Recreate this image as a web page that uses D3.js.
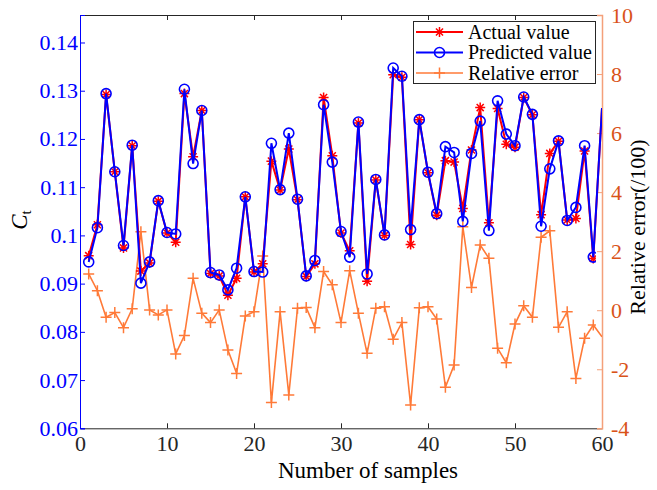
<!DOCTYPE html>
<html>
<head>
<meta charset="utf-8">
<script src="https://cdn.jsdelivr.net/npm/d3@7/dist/d3.min.js"></script>
<style>
  html, body { margin: 0; padding: 0; background: #fff; }
  svg { display: block; font-family: "Liberation Serif", "Times New Roman", serif; }
</style>
</head>
<body>
<svg id="chart" width="657" height="490"></svg>
<script>
// Sample index 1..60
const samples = d3.range(1, 61);

// Thrust coefficient Ct: measured values
const actual = [
  0.0958, 0.1022, 0.1292, 0.1132, 0.0974, 0.1186, 0.0926, 0.0943, 0.1071, 0.1005,
  0.0986, 0.1294, 0.1163, 0.1259, 0.0921, 0.0916, 0.0876, 0.0911, 0.1080, 0.0924,
  0.0941, 0.1154, 0.1094, 0.1179, 0.1074, 0.0915, 0.0941, 0.1286, 0.1165, 0.1005,
  0.0968, 0.1233, 0.0905, 0.1115, 0.1000, 0.1333, 0.1328, 0.0981, 0.1240, 0.1130,
  0.1042, 0.1155, 0.1152, 0.1056, 0.1177, 0.1265, 0.1026, 0.1263, 0.1189, 0.1183,
  0.1286, 0.1250, 0.1043, 0.1170, 0.1195, 0.1032, 0.1035, 0.1175, 0.0952, 0.1264
];

// Thrust coefficient Ct: model prediction
const predicted = [
  0.0945, 0.1016, 0.1294, 0.1132, 0.0979, 0.1187, 0.0901, 0.0945, 0.1072, 0.1006,
  0.1003, 0.1303, 0.1149, 0.1259, 0.0923, 0.0918, 0.0887, 0.0932, 0.1080, 0.0925,
  0.0924, 0.1191, 0.1095, 0.1212, 0.1075, 0.0916, 0.0948, 0.1271, 0.1152, 0.1008,
  0.0955, 0.1235, 0.0920, 0.1116, 0.1001, 0.1347, 0.1330, 0.1012, 0.1240, 0.1131,
  0.1045, 0.1184, 0.1172, 0.1029, 0.1170, 0.1237, 0.1010, 0.1279, 0.1210, 0.1186,
  0.1287, 0.1251, 0.1019, 0.1138, 0.1196, 0.1031, 0.1058, 0.1186, 0.0955, 0.1264
];

// Relative error (/100)
const relError = [
   1.23,  0.66, -0.24, -0.08, -0.59,  0.05,  2.66,  0.01, -0.16,  0.01,
  -1.48, -0.86,  1.08, -0.10, -0.42,  0.01, -1.35, -2.14, -0.20, -0.05,
   1.84, -3.13, -0.05, -2.87,  0.07,  0.09, -0.59,  1.31,  0.86, -0.42,
   1.34, -0.10, -1.46,  0.07,  0.12, -0.98, -0.42, -3.21,  0.08,  0.12,
  -0.30, -2.61, -1.86,  2.83,  0.77,  2.21,  1.76, -1.29, -1.78, -0.47,
   0.15, -0.24,  2.47,  2.69, -0.58, -0.05, -2.31, -0.95, -0.50, -0.90
];

const xTicks = [0, 10, 20, 30, 40, 50, 60];
const leftTicks = [0.06, 0.07, 0.08, 0.09, 0.10, 0.11, 0.12, 0.13, 0.14];
const rightTicks = [-4, -2, 0, 2, 4, 6, 8, 10];
const legendLabels = ["Actual value", "Predicted value", "Relative error"];

const colors = { actual: "#ff0000", predicted: "#0000ff", error: "#ff7a38",
                 rightAxis: "#d95319", box: "#262626" };

const serif = "Liberation Serif, Times New Roman, serif";
const svg = d3.select("#chart");
const L = 80, R = 602, T = 15, B = 428.3;

const x = d3.scaleLinear().domain([0, 60]).range([L, R]);
const yL = d3.scaleLinear().domain([0.06, 0.1457]).range([B, T]);
const yR = d3.scaleLinear().domain([-4, 10]).range([B, T]);

const defs = svg.append("defs");
defs.append("clipPath").attr("id", "plotClip")
  .append("rect").attr("x", L).attr("y", T).attr("width", R - L).attr("height", B - T);
// markers stop short of the right border
defs.append("clipPath").attr("id", "markerClip")
  .append("rect").attr("x", L - 10).attr("y", T - 10)
  .attr("width", x(59.3) - L + 10).attr("height", B - T + 20);

const rows = samples.map((s, i) => ({ s, a: actual[i], p: predicted[i], e: relError[i] }));

const tickFont = 22;
const titleFont = 23;

// bottom axis
const xAxisB = d3.axisBottom(x).tickValues(xTicks).tickSize(-5).tickPadding(7)
  .tickFormat(d3.format("d"));
const gB = svg.append("g").attr("transform", `translate(0,${B})`).call(xAxisB)
  .attr("font-family", serif).attr("font-size", tickFont);
gB.select(".domain").attr("stroke", colors.box).attr("stroke-width", 1);
gB.selectAll(".tick line").attr("stroke", colors.box);
gB.selectAll(".tick text").attr("fill", "#262626");

// top axis (ticks only)
const xAxisT = d3.axisTop(x).tickValues(xTicks).tickSize(-5).tickFormat("");
const gT = svg.append("g").attr("transform", `translate(0,${T})`).call(xAxisT);
gT.select(".domain").attr("stroke", colors.box).attr("stroke-width", 1);
gT.selectAll(".tick line").attr("stroke", colors.box);

// left axis (blue)
const yAxisL = d3.axisLeft(yL).tickValues(leftTicks).tickSize(-5).tickPadding(2)
  .tickFormat(d => String(+d.toFixed(2)));
const gL = svg.append("g").attr("transform", `translate(${L},0)`).call(yAxisL)
  .attr("font-family", serif).attr("font-size", tickFont);
gL.select(".domain").attr("stroke", "#0000ff").attr("stroke-width", 1);
gL.selectAll(".tick line").attr("stroke", "#0000ff");
gL.selectAll(".tick text").attr("fill", "#0000ff");

// right axis (orange)
const yAxisR = d3.axisRight(yR).tickValues(rightTicks).tickSize(-5).tickPadding(9)
  .tickFormat(d => d < 0 ? "-" + Math.abs(d) : String(d));
const gR = svg.append("g").attr("transform", `translate(${R},0)`).call(yAxisR)
  .attr("font-family", serif).attr("font-size", tickFont);
gR.select(".domain").attr("stroke", "#f4a07a").attr("stroke-width", 1.5);
gR.selectAll(".tick line").attr("stroke", "#f4a07a");
gR.selectAll(".tick text").attr("fill", colors.rightAxis);

// axis titles
svg.append("text").attr("x", 368).attr("y", 478)
  .attr("text-anchor", "middle").attr("font-size", titleFont).attr("fill", "#000")
  .text("Number of samples");

const ct = svg.append("text").attr("transform", "translate(27,220) rotate(-90)")
  .attr("text-anchor", "middle").attr("font-size", 23).attr("fill", "#000");
ct.append("tspan").attr("font-style", "italic").text("C");
ct.append("tspan").attr("font-size", 15).attr("dy", 4).text("t");

svg.append("text").attr("transform", "translate(645,227) rotate(-90)")
  .attr("text-anchor", "middle").attr("font-size", 22).attr("fill", "#000")
  .text("Relative error(/100)");

// ---- marker shapes ----
function asterisk(g, cx, cy, r, color) {
  const d = r * 0.7071;
  const path = `M${cx - r},${cy}L${cx + r},${cy}M${cx},${cy - r}L${cx},${cy + r}` +
    `M${cx - d},${cy - d}L${cx + d},${cy + d}M${cx - d},${cy + d}L${cx + d},${cy - d}`;
  g.append("path").attr("d", path).attr("stroke", color).attr("stroke-width", 1.5).attr("fill", "none");
}
function plus(g, cx, cy, r, color) {
  g.append("path").attr("d", `M${cx - r},${cy}L${cx + r},${cy}M${cx},${cy - r}L${cx},${cy + r}`)
    .attr("stroke", color).attr("stroke-width", 1.5).attr("fill", "none");
}
function circle(g, cx, cy, r, color) {
  g.append("circle").attr("cx", cx).attr("cy", cy).attr("r", r)
    .attr("stroke", color).attr("stroke-width", 1.6).attr("fill", "none");
}

// ---- series ----
const plot = svg.append("g").attr("clip-path", "url(#plotClip)");

const lineA = d3.line().x(d => x(d.s)).y(d => yL(d.a));
const lineP = d3.line().x(d => x(d.s)).y(d => yL(d.p));
const lineE = d3.line().x(d => x(d.s)).y(d => yR(d.e));

// relative error on the right axis
plot.append("path").datum(rows).attr("d", lineE)
  .attr("fill", "none").attr("stroke", colors.error).attr("stroke-width", 1.6);
const mE = plot.append("g").attr("clip-path", "url(#markerClip)");
rows.forEach(d => plus(mE, x(d.s), yR(d.e), 5.5, colors.error));

// actual values
plot.append("path").datum(rows).attr("d", lineA)
  .attr("fill", "none").attr("stroke", colors.actual).attr("stroke-width", 2);
const mA = plot.append("g").attr("clip-path", "url(#markerClip)");
rows.forEach(d => asterisk(mA, x(d.s), yL(d.a), 5, colors.actual));

// predicted values
plot.append("path").datum(rows).attr("d", lineP)
  .attr("fill", "none").attr("stroke", colors.predicted).attr("stroke-width", 2);
const mP = plot.append("g").attr("clip-path", "url(#markerClip)");
rows.forEach(d => circle(mP, x(d.s), yL(d.p), 5, colors.predicted));

// ---- legend ----
const lg = svg.append("g");
lg.append("rect").attr("x", 413.5).attr("y", 21.5).attr("width", 182).attr("height", 62)
  .attr("fill", "#fff").attr("stroke", "#262626").attr("stroke-width", 1);
const legendItems = [
  { label: legendLabels[0], color: colors.actual, mark: asterisk, r: 5 },
  { label: legendLabels[1], color: colors.predicted, mark: circle, r: 5 },
  { label: legendLabels[2], color: colors.error, mark: plus, r: 5.5 }
];
legendItems.forEach((it, i) => {
  const cy = 32 + i * 20.5;
  lg.append("line").attr("x1", 416).attr("x2", 463).attr("y1", cy).attr("y2", cy)
    .attr("stroke", it.color).attr("stroke-width", it.color === colors.error ? 1.6 : 2);
  it.mark(lg, 439.5, cy, it.r, it.color);
  lg.append("text").attr("x", 468).attr("y", cy + 6.5).attr("font-size", 20)
    .attr("fill", "#000").text(it.label);
});
</script>
</body>
</html>
